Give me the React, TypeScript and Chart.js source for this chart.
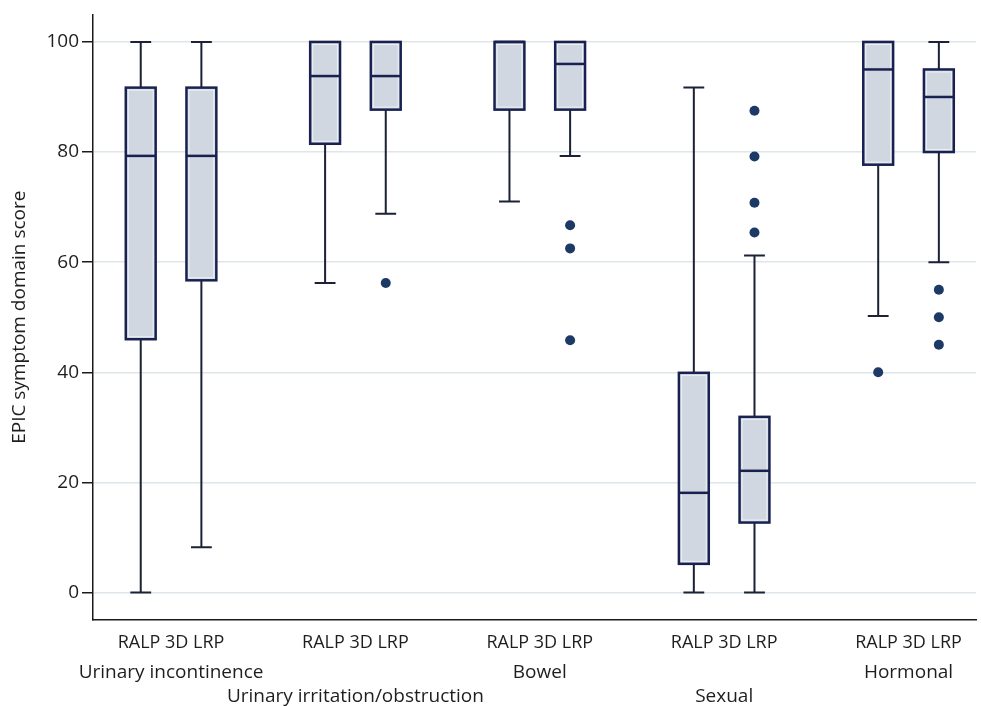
import { useEffect, useRef } from 'react';
import { Chart, registerables } from 'chart.js';

Chart.register(...registerables);

const groupNames = ['Urinary incontinence', 'Urinary irritation/obstruction', 'Bowel', 'Sexual', 'Hormonal'];
const pairLabel = 'RALP 3D LRP';
const yTicks = [0, 20, 40, 60, 80, 100];
const yTitle = 'EPIC symptom domain score';

// RALP boxes
const ralpLow = [0, 56.2, 71, 0, 50.2];
const ralpQ1 = [46, 81.5, 87.7, 5.2, 77.7];
const ralpMedian = [79.3, 93.8, 100, 18.1, 95];
const ralpQ3 = [91.7, 100, 100, 39.9, 100];
const ralpHigh = [100, 100, 100, 91.7, 100];
const ralpOutliers = [[], [], [], [], [40]];

// 3D LRP boxes
const lrpLow = [8.2, 68.8, 79.3, 0, 60];
const lrpQ1 = [56.7, 87.7, 87.7, 12.7, 80];
const lrpMedian = [79.3, 93.8, 96, 22.1, 90];
const lrpQ3 = [91.7, 100, 100, 31.9, 95];
const lrpHigh = [100, 100, 100, 61.2, 100];
const lrpOutliers = [[], [56.2], [66.7, 62.5, 45.8], [87.5, 79.2, 70.8, 65.4], [55, 50, 45]];

const PAIR_OFFSET = 0.1645;
const BOX_W = 0.162;
const CAP_W = 0.113;

const FONT_FAMILY = '"Open Sans", "DejaVu Sans", sans-serif';
const TEXT_COLOR = '#1e1e1e';
const AXIS_COLOR = '#1a1a1a';
const BOX_FILL = '#d0d7e0';
const BOX_EDGE = '#18214f';
const WHISKER = '#1b2236';
const OUTLIER = '#1d3a66';

type Box = { x: number; low: number; q1: number; med: number; q3: number; high: number };

const boxes: Box[] = [];
groupNames.forEach((_, i) => {
  boxes.push({ x: i - PAIR_OFFSET, low: ralpLow[i], q1: ralpQ1[i], med: ralpMedian[i], q3: ralpQ3[i], high: ralpHigh[i] });
  boxes.push({ x: i + PAIR_OFFSET, low: lrpLow[i], q1: lrpQ1[i], med: lrpMedian[i], q3: lrpQ3[i], high: lrpHigh[i] });
});

const boxPlugin = {
  id: 'boxes',
  beforeDatasetsDraw(chart: any) {
    const { ctx, scales } = chart;
    const xs = scales.x;
    const ys = scales.y;
    const unit = xs.getPixelForValue(1) - xs.getPixelForValue(0);
    const bw = BOX_W * unit;
    const cw = CAP_W * unit;
    ctx.save();
    boxes.forEach((b) => {
      const cx = xs.getPixelForValue(b.x);
      const yLow = ys.getPixelForValue(b.low);
      const yQ1 = ys.getPixelForValue(b.q1);
      const yMed = ys.getPixelForValue(b.med);
      const yQ3 = ys.getPixelForValue(b.q3);
      const yHigh = ys.getPixelForValue(b.high);
      ctx.strokeStyle = WHISKER;
      ctx.lineWidth = 2;
      ctx.lineCap = 'butt';
      if (b.high > b.q3) {
        ctx.beginPath();
        ctx.moveTo(cx, yQ3);
        ctx.lineTo(cx, yHigh);
        ctx.moveTo(cx - cw / 2, yHigh);
        ctx.lineTo(cx + cw / 2, yHigh);
        ctx.stroke();
      }
      if (b.low < b.q1) {
        ctx.beginPath();
        ctx.moveTo(cx, yQ1);
        ctx.lineTo(cx, yLow);
        ctx.moveTo(cx - cw / 2, yLow);
        ctx.lineTo(cx + cw / 2, yLow);
        ctx.stroke();
      }
      ctx.fillStyle = BOX_FILL;
      ctx.fillRect(cx - bw / 2, yQ3, bw, yQ1 - yQ3);
      ctx.strokeStyle = '#eef1f6';
      ctx.lineWidth = 1;
      ctx.strokeRect(cx - bw / 2 + 2.5, yQ3 + 2.5, bw - 5, yQ1 - yQ3 - 5);
      ctx.strokeStyle = BOX_EDGE;
      ctx.lineWidth = 2.5;
      ctx.strokeRect(cx - bw / 2, yQ3, bw, yQ1 - yQ3);
      ctx.beginPath();
      ctx.moveTo(cx - bw / 2, yMed);
      ctx.lineTo(cx + bw / 2, yMed);
      ctx.stroke();
    });
    ctx.restore();
  },
  afterDraw(chart: any) {
    const { ctx, scales } = chart;
    const xs = scales.x;
    ctx.save();
    ctx.fillStyle = TEXT_COLOR;
    ctx.font = `19px ${FONT_FAMILY}`;
    ctx.textAlign = 'center';
    ctx.textBaseline = 'middle';
    groupNames.forEach((name, i) => {
      const y = xs.top + (i % 2 === 0 ? 53 : 77);
      ctx.fillText(name, xs.getPixelForValue(i), y);
    });
    ctx.restore();
  },
};

export default function App() {
  const ref = useRef<HTMLCanvasElement | null>(null);
  useEffect(() => {
    document.body.style.margin = '0';
    const canvas = ref.current;
    if (!canvas) return;
    const outlierData = (list: number[][], off: number) =>
      list.flatMap((vals, i) => vals.map((v) => ({ x: i + off, y: v })));
    const chart = new Chart(canvas, {
      type: 'scatter',
      data: {
        datasets: [
          {
            label: 'RALP outliers',
            data: outlierData(ralpOutliers, -PAIR_OFFSET),
            pointRadius: 5,
            pointBackgroundColor: OUTLIER,
            pointBorderColor: OUTLIER,
            pointBorderWidth: 0,
          },
          {
            label: '3D LRP outliers',
            data: outlierData(lrpOutliers, PAIR_OFFSET),
            pointRadius: 5,
            pointBackgroundColor: OUTLIER,
            pointBorderColor: OUTLIER,
            pointBorderWidth: 0,
          },
        ],
      },
      options: {
        animation: false,
        responsive: false,
        layout: { padding: { top: 14, right: 0, left: 0, bottom: 0 } },
        plugins: { legend: { display: false }, tooltip: { enabled: false } },
        scales: {
          x: {
            type: 'linear',
            min: -0.4234,
            max: 4.366,
            afterBuildTicks: (s: any) => {
              s.ticks = groupNames.map((_, i) => ({ value: i }));
            },
            afterFit: (s: any) => {
              s.height = 86;
            },
            grid: { display: false },
            border: { display: true, color: AXIS_COLOR, width: 1.5 },
            ticks: {
              callback: () => pairLabel,
              font: { family: FONT_FAMILY, size: 18 },
              color: TEXT_COLOR,
              padding: 4,
              maxRotation: 0,
              autoSkip: false,
            },
          },
          y: {
            min: -5,
            max: 105,
            afterBuildTicks: (s: any) => {
              s.ticks = yTicks.map((v) => ({ value: v }));
            },
            afterFit: (s: any) => {
              s.width = 93;
            },
            grid: { color: '#dfe6ea', lineWidth: 1.5, tickColor: AXIS_COLOR, tickLength: 11, tickWidth: 1.5 },
            border: { display: true, color: AXIS_COLOR, width: 1.5 },
            ticks: { font: { family: FONT_FAMILY, size: 19 }, color: TEXT_COLOR, padding: 3 },
            title: {
              display: true,
              text: yTitle,
              font: { family: FONT_FAMILY, size: 19 },
              color: TEXT_COLOR,
              padding: { top: 8, bottom: 0 },
            },
          },
        },
      },
      plugins: [boxPlugin],
    } as any);
    return () => chart.destroy();
  }, []);
  return (
    <div style={{ width: 981, height: 706 }}>
      <canvas ref={ref} width={981} height={706} style={{ display: 'block', width: 981, height: 706 }} />
    </div>
  );
}
